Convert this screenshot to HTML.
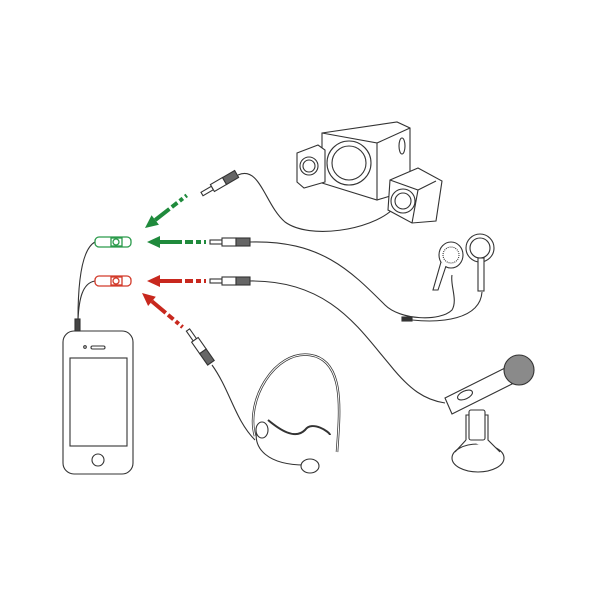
<!DOCTYPE html>
<html><head><meta charset="utf-8"><style>html,body{margin:0;padding:0;background:#fff}svg{display:block}</style></head>
<body>
<svg width="600" height="600" viewBox="0 0 600 600" xmlns="http://www.w3.org/2000/svg" fill="none" stroke="#333" stroke-width="1.1">
<!-- phone -->
<rect x="63" y="331" width="70" height="143" rx="11" fill="#fff"/>
<rect x="70" y="358" width="57" height="88"/>
<circle cx="98" cy="460" r="6"/>
<rect x="91" y="346" width="14" height="3" rx="1.5"/>
<circle cx="85" cy="347" r="1.3"/>
<rect x="75" y="319" width="5" height="12" fill="#444"/>
<!-- splitter cables -->
<path d="M78 319 C78 290 80 250 95 242"/>
<path d="M78 319 C79 300 82 283 95 281"/>
<!-- connectors -->
<g stroke="#2a9a4a" stroke-width="1.3" fill="#fff">
<rect x="95" y="237" width="36" height="10" rx="4"/>
<rect x="111" y="238" width="11" height="8"/>
<circle cx="116" cy="242" r="3"/>
</g>
<g stroke="#d23a2a" stroke-width="1.3" fill="#fff">
<rect x="95" y="276" width="36" height="10" rx="4"/>
<rect x="111" y="277" width="11" height="8"/>
<circle cx="116" cy="281" r="3"/>
</g>
<!-- arrows -->
<g stroke="none">
<g fill="#1f8a3c">
<polygon points="147,242 160,236 160,248"/>
<rect x="160" y="240" width="22" height="4"/>
<rect x="185" y="240" width="8" height="4"/>
<rect x="196" y="240" width="5" height="4"/>
<rect x="204" y="240" width="2" height="4"/>
<g transform="translate(145,228) rotate(-38)">
<polygon points="0,0 13,-6 13,6"/>
<rect x="13" y="-2" width="18" height="4"/>
<rect x="34" y="-2" width="7" height="4"/>
<rect x="44" y="-2" width="4" height="4"/>
<rect x="51" y="-2" width="2" height="4"/>
</g>
</g>
<g fill="#c8281e">
<polygon points="147,281 160,275 160,287"/>
<rect x="160" y="279" width="22" height="4"/>
<rect x="185" y="279" width="8" height="4"/>
<rect x="196" y="279" width="5" height="4"/>
<rect x="204" y="279" width="2" height="4"/>
<g transform="translate(142,293) rotate(40)">
<polygon points="0,0 13,-6 13,6"/>
<rect x="13" y="-2" width="18" height="4"/>
<rect x="34" y="-2" width="7" height="4"/>
<rect x="44" y="-2" width="4" height="4"/>
<rect x="51" y="-2" width="2" height="4"/>
</g>
</g>
</g>
<!-- plugs -->
<g fill="#fff">
<g transform="translate(210,242)"><rect x="0" y="-2" width="12" height="4"/><rect x="12" y="-4" width="14" height="8"/><rect x="26" y="-4" width="14" height="8" fill="#666"/></g>
<g transform="translate(210,281)"><rect x="0" y="-2" width="12" height="4"/><rect x="12" y="-4" width="14" height="8"/><rect x="26" y="-4" width="14" height="8" fill="#666"/></g>
<g transform="translate(202,194) rotate(-30)"><rect x="0" y="-2" width="12" height="4"/><rect x="12" y="-4" width="14" height="8"/><rect x="26" y="-4" width="14" height="8" fill="#666"/></g>
<g transform="translate(188,330) rotate(55)"><rect x="0" y="-2" width="12" height="4"/><rect x="12" y="-4" width="14" height="8"/><rect x="26" y="-4" width="14" height="8" fill="#666"/></g>
</g>
<!-- cables -->
<path d="M238 175 C260 165 265 205 285 222 C310 240 370 230 392 210"/>
<path d="M250 242 C320 240 350 270 385 305 C400 320 440 322 452 310 C458 300 450 285 452 275"/>
<path d="M412 320 C440 323 480 320 482 292"/>
<rect x="402" y="317" width="10" height="4" fill="#333"/>
<path d="M250 281 C330 280 360 330 390 365 C410 390 425 400 445 403"/>
<path d="M212 365 C230 390 235 420 255 440"/>
<!-- speakers -->
<g fill="#fff">
<path d="M322 133 L397 122 L410 128 L410 190 L377 200 L322 183 Z"/>
<path d="M322 133 L377 143 L377 200"/><path d="M377 143 L410 128"/>
<circle cx="349" cy="163" r="22"/><circle cx="349" cy="163" r="17"/>
<ellipse cx="402" cy="146" rx="3" ry="8"/>
<path d="M297 153 L318 145 L325 150 L325 182 L304 188 L297 182 Z"/>
<circle cx="309" cy="166" r="9"/><circle cx="309" cy="166" r="6"/>
<path d="M390 180 L418 168 L442 181 L436 221 L412 223 L388 210 Z"/>
<path d="M390 180 L418 190 L436 181"/><path d="M418 190 L412 223"/>
<circle cx="403" cy="201" r="12"/><circle cx="403" cy="201" r="8"/>
</g>
<!-- earphones -->
<g fill="#fff">
<ellipse cx="451" cy="255" rx="12" ry="13"/>
<circle cx="451" cy="255" r="8" stroke-dasharray="1 1"/>
<path d="M441 262 L433 290 L438 290 L446 266"/>
<circle cx="480" cy="248" r="14"/><circle cx="480" cy="248" r="10"/>
<rect x="478" y="258" width="6" height="33"/>
</g>
<!-- mic -->
<g fill="#fff">
<ellipse cx="478" cy="458" rx="26" ry="14"/>
<path d="M466 440 L466 415 L488 415 L488 440 L500 452"/>
<path d="M466 440 L455 452"/>
<path d="M445 398 L505 368 L512 384 L452 414 Z"/>
<ellipse cx="465" cy="395" rx="8" ry="4" transform="rotate(-25 465 395)"/>
<rect x="469" y="410" width="16" height="30" rx="2"/>
<circle cx="519" cy="370" r="15" fill="#8a8a8a"/>
</g>
<!-- headset -->
<path d="M255 436 C245 400 275 350 310 355 C345 360 340 410 337 452" stroke-width="2.5"/>
<path d="M255 436 C245 400 275 350 310 355 C345 360 340 410 337 452" stroke="#fff" stroke-width="1"/>
<path d="M258 425 C250 450 270 465 305 465"/>
<ellipse cx="262" cy="430" rx="6" ry="8" fill="#fff"/>
<ellipse cx="310" cy="466" rx="9" ry="7" fill="#fff"/>
<path d="M268 420 C280 430 295 440 305 430 C312 420 330 432 330 435" stroke-width="2"/>
</svg>
</body></html>
